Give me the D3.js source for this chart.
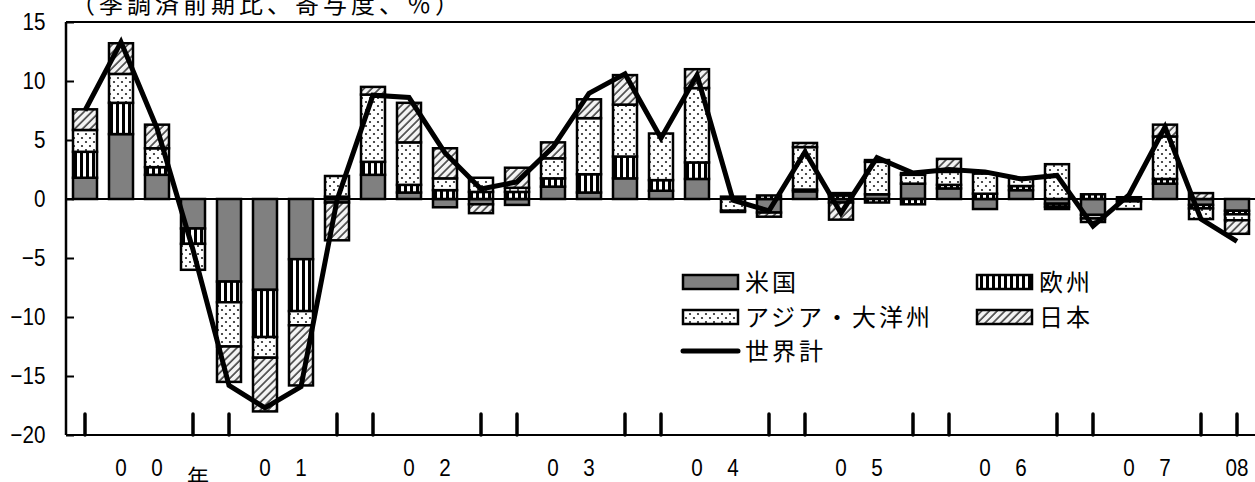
<!DOCTYPE html>
<html>
<head>
<meta charset="utf-8">
<script src="https://cdn.jsdelivr.net/npm/d3@7/dist/d3.min.js"></script>
<style>
  html, body { margin: 0; padding: 0; background: #fff; }
  svg { display: block; }
  .jp { font-family: "Noto Sans CJK JP", "Noto Sans CJK SC", sans-serif; fill: #000; }
  .num { font-family: "Liberation Sans", Arial, sans-serif; fill: #000; }
</style>
</head>
<body>
<svg id="chart" width="1255" height="482"></svg>
<script>
// Quarterly contributions to world import growth (s.a., q/q, % points)
const quarters = [
  "2000Q1","2000Q2","2000Q3","2000Q4",
  "2001Q1","2001Q2","2001Q3","2001Q4",
  "2002Q1","2002Q2","2002Q3","2002Q4",
  "2003Q1","2003Q2","2003Q3","2003Q4",
  "2004Q1","2004Q2","2004Q3","2004Q4",
  "2005Q1","2005Q2","2005Q3","2005Q4",
  "2006Q1","2006Q2","2006Q3","2006Q4",
  "2007Q1","2007Q2","2007Q3","2007Q4",
  "2008Q1"
];
const usValues = [
  1.8, 5.5, 2.05, -2.5,
  -7.0, -7.7, -5.1, -0.3,
  2.05, 0.55, -0.7, -0.45,
  -0.5, 1.05, 0.55, 1.75,
  0.7, 1.7, 0, -1.15,
  0.65, -0.3, 0.4, 1.3,
  0.9, -0.85, 0.75, -0.4,
  -1.35, 0.15, 1.3, -0.5,
  -1.0
];
const europeValues = [
  2.2, 2.65, 0.65, -1.3,
  -1.75, -4.0, -4.4, 0.2,
  1.1, 0.65, 0.75, 0.6,
  0.6, 0.7, 1.55, 1.85,
  0.9, 1.4, 0.2, 0.3,
  0.15, 0.3, -0.3, -0.45,
  0.3, 0.45, 0.35, -0.25,
  0.4, -0.2, 0.4, -0.3,
  -0.3
];
const asiaValues = [
  1.85, 2.45, 1.6, -2.2,
  -3.75, -1.75, -1.2, 1.75,
  5.7, 3.6, 1.0, 1.2,
  0.35, 1.7, 4.75, 4.4,
  3.95, 6.3, -1.0, 0,
  3.6, 0.2, 2.75, 0.75,
  1.1, 1.7, 0.7, 2.95,
  -0.3, -0.65, 3.6, -0.9,
  -0.5
];
const japanValues = [
  1.75, 2.6, 2.0, 0,
  -3.0, -4.55, -5.1, -3.2,
  0.65, 3.35, 2.55, -0.75,
  1.7, 1.35, 1.6, 2.5,
  0, 1.6, -0.1, -0.35,
  0.35, -1.45, 0.15, 0.15,
  1.1, 0, 0, -0.2,
  -0.3, 0, 1.0, 0.5,
  -1.15
];
const worldValues = [
  7.5, 13.3, 6.0, -4.3,
  -15.8, -17.7, -15.9, -0.1,
  8.8, 8.6, 3.9, 0.85,
  1.45, 4.4, 8.95, 10.6,
  5.15, 10.5, -0.1, -1.0,
  4.0, -1.2, 3.5, 2.2,
  2.5, 2.3, 1.7, 2.0,
  -2.3, 0.35, 6.1, -1.7,
  -3.6
];
// one label character per quarter slot along the bottom axis
const xLabels = [
  "", "0", "0", "年",
  "", "0", "1", "",
  "", "0", "2", "",
  "", "0", "3", "",
  "", "0", "4", "",
  "", "0", "5", "",
  "", "0", "6", "",
  "", "0", "7", "",
  "08"
];
const yTicks = [15, 10, 5, 0, -5, -10, -15, -20];
const seriesKeys = ["us", "europe", "asia", "japan"];
const seriesNames = { us: "米国", europe: "欧州", asia: "アジア・大洋州", japan: "日本" };
const titleText = "（季調済前期比、寄与度、％）";
const worldName = "世界計";

const rows = quarters.map((q, i) => ({
  q,
  us: usValues[i],
  europe: europeValues[i],
  asia: asiaValues[i],
  japan: japanValues[i],
  world: worldValues[i]
}));

const svg = d3.select("#chart");
const plotLeft = 66, plotTop = 22, plotBottom = 435, plotRight = 1255;

const x = d3.scaleBand().domain(quarters).range([67, 1255])
  .paddingInner(1 / 3).paddingOuter(1 / 6);
const y = d3.scaleLinear().domain([-20, 15]).range([plotBottom, plotTop]);

// fill patterns
const defs = svg.append("defs");
const stripes = defs.append("pattern").attr("id", "pat-europe")
  .attr("patternUnits", "userSpaceOnUse").attr("x", 74).attr("y", 0)
  .attr("width", 6).attr("height", 6);
stripes.append("rect").attr("width", 6).attr("height", 6).attr("fill", "#fff");
stripes.append("rect").attr("x", 0).attr("width", 3).attr("height", 6).attr("fill", "#000");

const dots = defs.append("pattern").attr("id", "pat-asia")
  .attr("patternUnits", "userSpaceOnUse").attr("width", 8).attr("height", 8);
dots.append("rect").attr("width", 8).attr("height", 8).attr("fill", "#fff");
dots.append("circle").attr("cx", 2).attr("cy", 2).attr("r", 1.1).attr("fill", "#222");
dots.append("circle").attr("cx", 6).attr("cy", 6).attr("r", 1.1).attr("fill", "#222");

const hatch = defs.append("pattern").attr("id", "pat-japan")
  .attr("patternUnits", "userSpaceOnUse").attr("width", 5.5).attr("height", 5.5)
  .attr("patternTransform", "rotate(45)");
hatch.append("rect").attr("width", 5.5).attr("height", 5.5).attr("fill", "#f4f4f4");
hatch.append("line").attr("x1", 1).attr("x2", 1).attr("y1", 0).attr("y2", 5.5)
  .attr("stroke", "#333").attr("stroke-width", 1.5);

const fills = {
  us: "#808080",
  europe: "url(#pat-europe)",
  asia: "url(#pat-asia)",
  japan: "url(#pat-japan)"
};

// stacked bars: positives grow up from zero, negatives grow down
const stacked = d3.stack().keys(seriesKeys).offset(d3.stackOffsetDiverging)(rows);
const barLayer = svg.append("g");
stacked.forEach(layer => {
  barLayer.append("g").selectAll("rect")
    .data(layer.filter(d => d[1] - d[0] !== 0))
    .join("rect")
    .attr("x", d => x(d.data.q))
    .attr("width", x.bandwidth())
    .attr("y", d => y(Math.max(d[0], d[1])))
    .attr("height", d => Math.abs(y(d[0]) - y(d[1])))
    .attr("fill", fills[layer.key])
    .attr("stroke", "#000")
    .attr("stroke-width", 2.5);
});

// frame
svg.append("line").attr("x1", plotLeft).attr("x2", plotRight).attr("y1", plotTop).attr("y2", plotTop)
  .attr("stroke", "#000").attr("stroke-width", 2);
svg.append("line").attr("x1", plotLeft).attr("x2", plotRight).attr("y1", plotBottom).attr("y2", plotBottom)
  .attr("stroke", "#000").attr("stroke-width", 2);
svg.append("line").attr("x1", plotLeft).attr("x2", plotLeft).attr("y1", plotTop).attr("y2", plotBottom)
  .attr("stroke", "#000").attr("stroke-width", 2.5);
// zero line
svg.append("line").attr("x1", plotLeft).attr("x2", plotRight).attr("y1", y(0)).attr("y2", y(0))
  .attr("stroke", "#000").attr("stroke-width", 2);

// y axis (ticks point inward)
const yAxis = svg.append("g").attr("transform", `translate(${plotLeft},0)`)
  .call(d3.axisLeft(y).tickValues(yTicks).tickSize(-8).tickPadding(24).tickFormat(d3.format("d")));
yAxis.select(".domain").remove();
yAxis.selectAll(".tick line").attr("stroke", "#000").attr("stroke-width", 2);
yAxis.selectAll(".tick text")
  .attr("class", "num")
  .attr("font-size", 24)
  .attr("transform", "scale(0.86,1)");
yAxis.attr("font-family", null).attr("font-size", null);

// bottom axis: marks at the first and last quarter of each year
const tickQuarters = quarters.filter(q => q.endsWith("Q1") || q.endsWith("Q4"));
svg.append("g").selectAll("line")
  .data(tickQuarters)
  .join("line")
  .attr("x1", q => x(q) + x.bandwidth() / 2)
  .attr("x2", q => x(q) + x.bandwidth() / 2)
  .attr("y1", plotBottom - 21)
  .attr("y2", plotBottom)
  .attr("stroke", "#000")
  .attr("stroke-width", 3.5)
  .attr("stroke-linecap", "round");

// bottom labels
svg.append("g").selectAll("text")
  .data(quarters.map((q, i) => ({ q, t: xLabels[i] })).filter(d => d.t !== ""))
  .join("text")
  .attr("class", d => d.t === "年" ? "jp" : "num")
  .attr("text-anchor", "middle")
  .attr("font-size", d => d.t === "年" ? 22 : 24)
  .attr("transform", d => {
    const cx = x(d.q) + x.bandwidth() / 2;
    return d.t === "年"
      ? `translate(${cx + 5},${485})`
      : `translate(${cx},${476}) scale(0.86,1)`;
  })
  .text(d => d.t);

// world total line
const line = d3.line()
  .x(d => x(d.q) + x.bandwidth() / 2)
  .y(d => y(d.world));
svg.append("path").datum(rows)
  .attr("d", line)
  .attr("fill", "none")
  .attr("stroke", "#000")
  .attr("stroke-width", 5)
  .attr("stroke-linejoin", "miter")
  .attr("stroke-miterlimit", 6);

// title
svg.append("text").attr("class", "jp")
  .attr("x", 71).attr("y", 13)
  .attr("font-size", 24).attr("letter-spacing", 4)
  .text(titleText);

// legend
const legendItems = [
  { key: "us", col: 0, row: 0 },
  { key: "europe", col: 1, row: 0 },
  { key: "asia", col: 0, row: 1 },
  { key: "japan", col: 1, row: 1 }
];
const colX = [683, 977];
const rowY = [282, 317, 351];
const legend = svg.append("g");
legendItems.forEach(it => {
  const bx = colX[it.col], cy = rowY[it.row];
  legend.append("rect")
    .attr("x", bx).attr("y", cy - 7).attr("width", 55).attr("height", 14)
    .attr("fill", fills[it.key]).attr("stroke", "#000").attr("stroke-width", 2.5);
  legend.append("text").attr("class", "jp")
    .attr("x", bx + 62).attr("y", cy + 9)
    .attr("font-size", 24).attr("letter-spacing", 3)
    .text(seriesNames[it.key]);
});
legend.append("line")
  .attr("x1", colX[0]).attr("x2", colX[0] + 55)
  .attr("y1", rowY[2]).attr("y2", rowY[2])
  .attr("stroke", "#000").attr("stroke-width", 5).attr("stroke-linecap", "round");
legend.append("text").attr("class", "jp")
  .attr("x", colX[0] + 62).attr("y", rowY[2] + 9)
  .attr("font-size", 24).attr("letter-spacing", 3)
  .text(worldName);
</script>
</body>
</html>
